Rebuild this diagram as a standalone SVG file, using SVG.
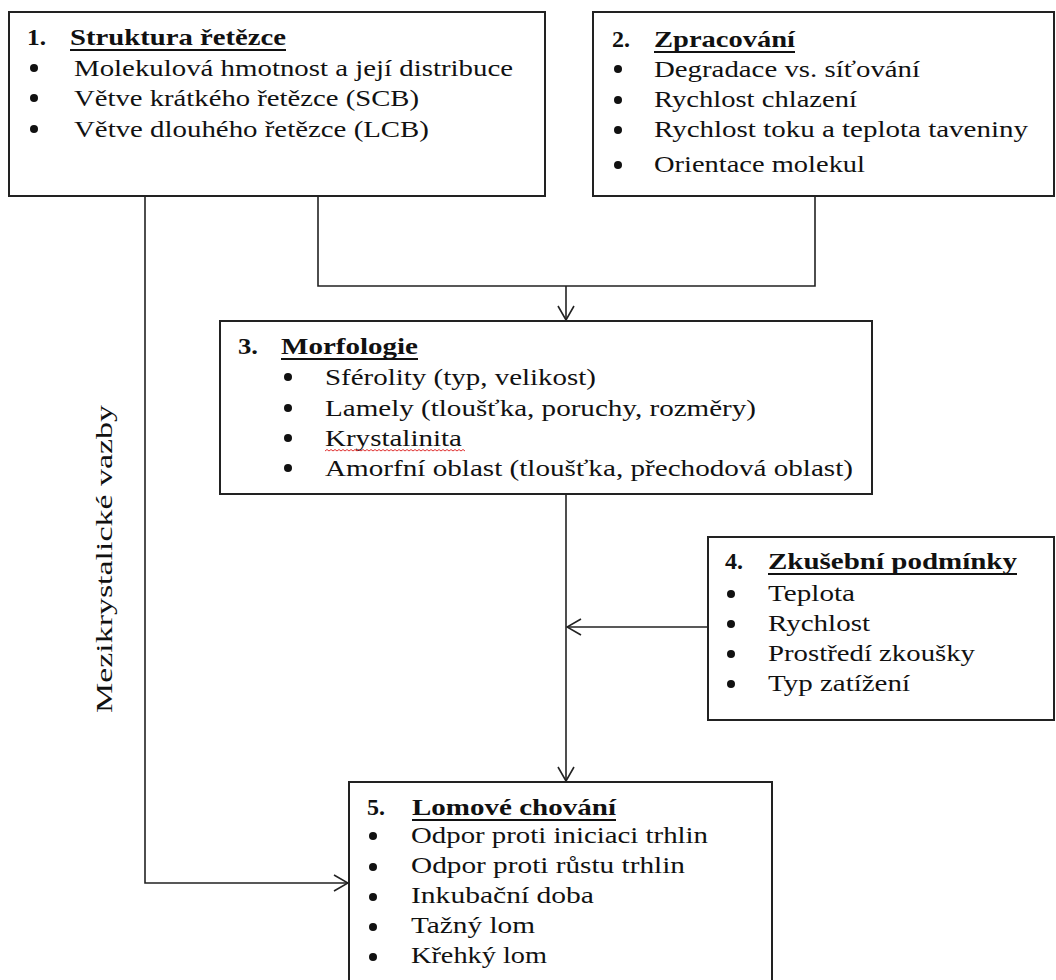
<svg xmlns="http://www.w3.org/2000/svg" width="1056" height="980" viewBox="0 0 1056 980">
<style>
.box{fill:#fff;stroke:#222;stroke-width:2}
.t{font-family:"Liberation Serif","Times New Roman",serif;font-size:23px;fill:#111}
.b{font-weight:bold}
.ul{stroke:#111;stroke-width:2}
.bl{fill:#111}
.c{fill:none;stroke:#222;stroke-width:1.6}
</style>
<defs>
<marker id="arr" viewBox="0 0 16 18" refX="15" refY="9" markerWidth="16" markerHeight="18" markerUnits="userSpaceOnUse" orient="auto">
<path d="M1,1 L15,9 L1,17" fill="none" stroke="#222" stroke-width="1.6"/>
</marker>
</defs>
<rect width="1056" height="980" fill="#fff"/>
<g id="connectors">
<path class="c" d="M145,196 V883 H348" marker-end="url(#arr)"/>
<path class="c" d="M318,196 V286 H815 V196"/>
<path class="c" d="M566,286 V320" marker-end="url(#arr)"/>
<path class="c" d="M566,494 V781" marker-end="url(#arr)"/>
<path class="c" d="M708,627 H567" marker-end="url(#arr)"/>
</g>
<g id="node1">
<rect class="box" x="9" y="12" width="536" height="184"/>
<text class="t b" x="27" y="45" textLength="19" lengthAdjust="spacingAndGlyphs">1.</text>
<text class="t b" x="70" y="45" textLength="216" lengthAdjust="spacingAndGlyphs">Struktura řetězce</text>
<line class="ul" x1="70" y1="50" x2="286" y2="50"/>
<circle class="bl" cx="34" cy="68" r="4"/>
<circle class="bl" cx="34" cy="98" r="4"/>
<circle class="bl" cx="34" cy="129" r="4"/>
<text class="t" x="74" y="76" textLength="439" lengthAdjust="spacingAndGlyphs">Molekulová hmotnost a její distribuce</text>
<text class="t" x="74" y="106" textLength="345" lengthAdjust="spacingAndGlyphs">Větve krátkého řetězce (SCB)</text>
<text class="t" x="74" y="137" textLength="355" lengthAdjust="spacingAndGlyphs">Větve dlouhého řetězce (LCB)</text>
</g>
<g id="node2">
<rect class="box" x="593" y="12" width="461" height="184"/>
<text class="t b" x="612" y="47" textLength="18" lengthAdjust="spacingAndGlyphs">2.</text>
<text class="t b" x="654" y="47" textLength="141" lengthAdjust="spacingAndGlyphs">Zpracování</text>
<line class="ul" x1="654" y1="52" x2="795" y2="52"/>
<circle class="bl" cx="618" cy="69" r="4"/>
<circle class="bl" cx="618" cy="100" r="4"/>
<circle class="bl" cx="618" cy="130" r="4"/>
<circle class="bl" cx="618" cy="165" r="4"/>
<text class="t" x="654" y="77" textLength="266" lengthAdjust="spacingAndGlyphs">Degradace vs. síťování</text>
<text class="t" x="654" y="107" textLength="203" lengthAdjust="spacingAndGlyphs">Rychlost chlazení</text>
<text class="t" x="654" y="137" textLength="374" lengthAdjust="spacingAndGlyphs">Rychlost toku a teplota taveniny</text>
<text class="t" x="654" y="172" textLength="211" lengthAdjust="spacingAndGlyphs">Orientace molekul</text>
</g>
<g id="node3">
<rect class="box" x="220" y="321" width="652" height="173"/>
<text class="t b" x="238" y="354" textLength="20" lengthAdjust="spacingAndGlyphs">3.</text>
<text class="t b" x="281" y="354" textLength="137" lengthAdjust="spacingAndGlyphs">Morfologie</text>
<line class="ul" x1="281" y1="359" x2="418" y2="359"/>
<circle class="bl" cx="288" cy="377" r="4"/>
<circle class="bl" cx="288" cy="408" r="4"/>
<circle class="bl" cx="288" cy="438" r="4"/>
<circle class="bl" cx="288" cy="468" r="4"/>
<text class="t" x="325" y="385" textLength="271" lengthAdjust="spacingAndGlyphs">Sférolity (typ, velikost)</text>
<text class="t" x="325" y="416" textLength="431" lengthAdjust="spacingAndGlyphs">Lamely (tloušťka, poruchy, rozměry)</text>
<text class="t" x="325" y="446" textLength="137" lengthAdjust="spacingAndGlyphs">Krystalinita</text>
<path d="M325,451 l2,-1.5 l2,1.5 l2,-1.5 l2,1.5 l2,-1.5 l2,1.5 l2,-1.5 l2,1.5 l2,-1.5 l2,1.5 l2,-1.5 l2,1.5 l2,-1.5 l2,1.5 l2,-1.5 l2,1.5 l2,-1.5 l2,1.5 l2,-1.5 l2,1.5 l2,-1.5 l2,1.5 l2,-1.5 l2,1.5 l2,-1.5 l2,1.5 l2,-1.5 l2,1.5 l2,-1.5 l2,1.5 l2,-1.5 l2,1.5 l2,-1.5 l2,1.5 l2,-1.5 l2,1.5 l2,-1.5 l2,1.5 l2,-1.5 l2,1.5 l2,-1.5 l2,1.5 l2,-1.5 l2,1.5 l2,-1.5 l2,1.5 l2,-1.5 l2,1.5 l2,-1.5 l2,1.5 l2,-1.5 l2,1.5 l2,-1.5 l2,1.5 l2,-1.5 l2,1.5 l2,-1.5 l2,1.5 l2,-1.5 l2,1.5 l2,-1.5 l2,1.5 l2,-1.5 l2,1.5 l2,-1.5 l2,1.5 l2,-1.5 l2,1.5 l2,-1.5 l2,1.5" fill="none" stroke="#e03030" stroke-width="1"/>
<text class="t" x="325" y="476" textLength="528" lengthAdjust="spacingAndGlyphs">Amorfní oblast (tloušťka, přechodová oblast)</text>
</g>
<g id="node4">
<rect class="box" x="708" y="537" width="346" height="183"/>
<text class="t b" x="725" y="569" textLength="18" lengthAdjust="spacingAndGlyphs">4.</text>
<text class="t b" x="768" y="569" textLength="249" lengthAdjust="spacingAndGlyphs">Zkušební podmínky</text>
<line class="ul" x1="768" y1="574" x2="1017" y2="574"/>
<circle class="bl" cx="731" cy="594" r="4"/>
<circle class="bl" cx="731" cy="624" r="4"/>
<circle class="bl" cx="731" cy="654" r="4"/>
<circle class="bl" cx="731" cy="684" r="4"/>
<text class="t" x="768" y="601" textLength="87" lengthAdjust="spacingAndGlyphs">Teplota</text>
<text class="t" x="768" y="631" textLength="102" lengthAdjust="spacingAndGlyphs">Rychlost</text>
<text class="t" x="768" y="661" textLength="207" lengthAdjust="spacingAndGlyphs">Prostředí zkoušky</text>
<text class="t" x="768" y="691" textLength="142" lengthAdjust="spacingAndGlyphs">Typ zatížení</text>
</g>
<g id="node5">
<rect class="box" x="349" y="782" width="423" height="230"/>
<text class="t b" x="367" y="815" textLength="18" lengthAdjust="spacingAndGlyphs">5.</text>
<text class="t b" x="412" y="815" textLength="204" lengthAdjust="spacingAndGlyphs">Lomové chování</text>
<line class="ul" x1="412" y1="820" x2="616" y2="820"/>
<circle class="bl" cx="373" cy="836" r="4"/>
<circle class="bl" cx="373" cy="867" r="4"/>
<circle class="bl" cx="373" cy="897" r="4"/>
<circle class="bl" cx="373" cy="927" r="4"/>
<circle class="bl" cx="373" cy="957" r="4"/>
<text class="t" x="411" y="843" textLength="297" lengthAdjust="spacingAndGlyphs">Odpor proti iniciaci trhlin</text>
<text class="t" x="411" y="873" textLength="274" lengthAdjust="spacingAndGlyphs">Odpor proti růstu trhlin</text>
<text class="t" x="411" y="903" textLength="183" lengthAdjust="spacingAndGlyphs">Inkubační doba</text>
<text class="t" x="411" y="933" textLength="124" lengthAdjust="spacingAndGlyphs">Tažný lom</text>
<text class="t" x="411" y="963" textLength="136" lengthAdjust="spacingAndGlyphs">Křehký lom</text>
</g>
<g id="label-mezikrystalicke">
<text class="t" transform="translate(112,713) rotate(-90)" x="0" y="0" textLength="308" lengthAdjust="spacingAndGlyphs">Mezikrystalické vazby</text>
</g>
</svg>
